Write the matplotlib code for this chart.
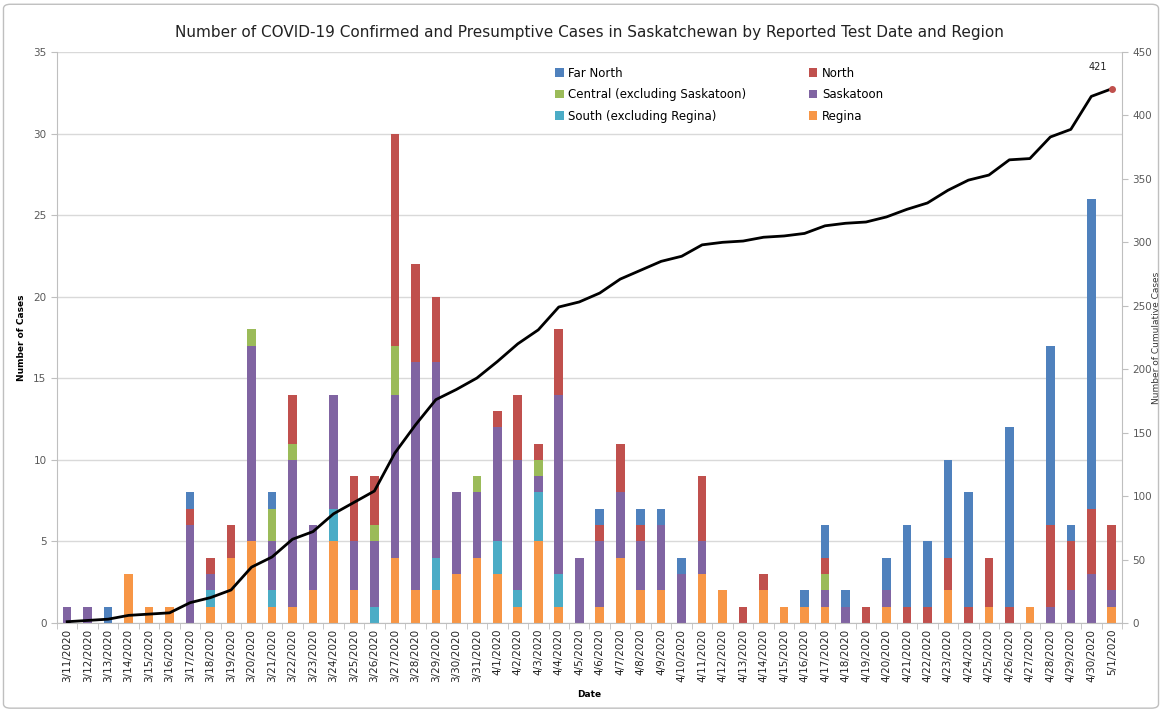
import numpy as np
import matplotlib
matplotlib.use("Agg")
import matplotlib.pyplot as plt
from matplotlib.patches import FancyBboxPatch

dates = ["3/11/2020", "3/12/2020", "3/13/2020", "3/14/2020", "3/15/2020", "3/16/2020",
         "3/17/2020", "3/18/2020", "3/19/2020", "3/20/2020", "3/21/2020", "3/22/2020",
         "3/23/2020", "3/24/2020", "3/25/2020", "3/26/2020", "3/27/2020", "3/28/2020",
         "3/29/2020", "3/30/2020", "3/31/2020", "4/1/2020", "4/2/2020", "4/3/2020",
         "4/4/2020", "4/5/2020", "4/6/2020", "4/7/2020", "4/8/2020", "4/9/2020",
         "4/10/2020", "4/11/2020", "4/12/2020", "4/13/2020", "4/14/2020", "4/15/2020",
         "4/16/2020", "4/17/2020", "4/18/2020", "4/19/2020", "4/20/2020", "4/21/2020",
         "4/22/2020", "4/23/2020", "4/24/2020", "4/25/2020", "4/26/2020", "4/27/2020",
         "4/28/2020", "4/29/2020", "4/30/2020", "5/1/2020"]

# daily cases per region (stack order bottom -> top)
regina    = [0, 0, 0, 3, 1, 1, 0, 1, 4, 5, 1, 1, 2, 5, 2, 0, 4, 2, 2, 3, 4, 3, 1, 5, 1, 0,
             1, 4, 2, 2, 0, 3, 2, 0, 2, 1, 1, 1, 0, 0, 1, 0, 0, 2, 0, 1, 0, 1, 0, 0, 0, 1]
south     = [0, 0, 0, 0, 0, 0, 0, 1, 0, 0, 1, 0, 0, 2, 0, 1, 0, 0, 2, 0, 0, 2, 1, 3, 2, 0,
             0, 0, 0, 0, 0, 0, 0, 0, 0, 0, 0, 0, 0, 0, 0, 0, 0, 0, 0, 0, 0, 0, 0, 0, 0, 0]
saskatoon = [1, 1, 0, 0, 0, 0, 6, 1, 0, 12, 3, 9, 4, 7, 3, 4, 10, 14, 12, 5, 4, 7, 8, 1, 11, 4,
             4, 4, 3, 4, 3, 2, 0, 0, 0, 0, 0, 1, 1, 0, 1, 0, 0, 0, 0, 0, 0, 0, 1, 2, 3, 1]
central   = [0, 0, 0, 0, 0, 0, 0, 0, 0, 1, 2, 1, 0, 0, 0, 1, 3, 0, 0, 0, 1, 0, 0, 1, 0, 0,
             0, 0, 0, 0, 0, 0, 0, 0, 0, 0, 0, 1, 0, 0, 0, 0, 0, 0, 0, 0, 0, 0, 0, 0, 0, 0]
north     = [0, 0, 0, 0, 0, 0, 1, 1, 2, 0, 0, 3, 0, 0, 4, 3, 13, 6, 4, 0, 0, 1, 4, 1, 4, 0,
             1, 3, 1, 0, 0, 4, 0, 1, 1, 0, 0, 1, 0, 1, 0, 1, 1, 2, 1, 3, 1, 0, 5, 3, 4, 4]
far_north = [0, 0, 1, 0, 0, 0, 1, 0, 0, 0, 1, 0, 0, 0, 0, 0, 0, 0, 0, 0, 0, 0, 0, 0, 0, 0,
             1, 0, 1, 1, 1, 0, 0, 0, 0, 0, 1, 2, 1, 0, 2, 5, 4, 6, 7, 0, 11, 0, 11, 1, 19, 0]

cumulative = [1, 2, 3, 6, 7, 8, 16, 20, 26, 44, 52, 66, 72, 86, 95, 104, 134, 156, 176, 184,
              193, 206, 220, 231, 249, 253, 260, 271, 278, 285, 289, 298, 300, 301, 304, 305,
              307, 313, 315, 316, 320, 326, 331, 341, 349, 353, 365, 366, 383, 389, 415, 421]

series = [("Regina", regina, "#F79646"),
          ("South (excluding Regina)", south, "#4BACC6"),
          ("Saskatoon", saskatoon, "#8064A2"),
          ("Central (excluding Saskatoon)", central, "#9BBB59"),
          ("North", north, "#C0504D"),
          ("Far North", far_north, "#4F81BD")]

fig = plt.figure(figsize=(11.62, 7.11), dpi=100)
ax = fig.add_axes([0.049, 0.1238, 0.9166, 0.8031])

x = np.arange(len(dates))
bottom = np.zeros(len(dates))
handles = {}
for name, vals, col in series:
    b = ax.bar(x, vals, 0.42, bottom=bottom, color=col, label=name, zorder=2)
    handles[name] = b
    bottom += np.array(vals)

ax.set_xlim(-0.5, len(dates) - 0.5)
ax.set_ylim(0, 35)
ax.set_yticks(range(0, 36, 5))
ax.yaxis.grid(True, color="#d9d9d9", linewidth=1, zorder=0)
ax.set_axisbelow(True)
ax.set_xticks(x)
ax.set_xticklabels(dates, rotation=90, fontsize=7.5, color="#222222")
ax.set_xticks(np.arange(-0.5, len(dates), 1), minor=True)
ax.tick_params(axis="x", which="major", length=0, pad=4)
ax.tick_params(axis="x", which="minor", length=4, color="#bfbfbf")
ax.tick_params(axis="y", length=4, color="#bfbfbf", labelsize=7.5, labelcolor="#595959")
for s in ["top", "right"]:
    ax.spines[s].set_visible(False)
for s in ["left", "bottom"]:
    ax.spines[s].set_color("#bfbfbf")
ax.set_ylabel("Number of Cases", fontsize=6.5, fontweight="bold")
ax.yaxis.set_label_coords(-0.029, 0.5)
ax.set_xlabel("Date", fontsize=6.5, fontweight="bold", labelpad=6)

ax2 = ax.twinx()
ax2.plot(x, cumulative, color="black", linewidth=2, zorder=3)
ax2.plot(x[-1], cumulative[-1], "o", color="#C0504D", markersize=4, zorder=4)
ax2.annotate(str(cumulative[-1]), (x[-1], cumulative[-1]), xytext=(-10, 16),
             textcoords="offset points", fontsize=7, ha="center", va="center", color="#222222")
ax2.set_ylim(0, 450)
ax2.set_yticks(range(0, 451, 50))
ax2.tick_params(axis="y", length=4, color="#bfbfbf", labelsize=7.5, labelcolor="#595959")
for s in ["top", "left", "bottom"]:
    ax2.spines[s].set_visible(False)
ax2.spines["right"].set_color("#bfbfbf")
ax2.set_ylabel("Number of Cumulative Cases", fontsize=6.5, color="#333333")
ax2.yaxis.set_label_coords(1.028, 0.5)

order = ["Far North", "Central (excluding Saskatoon)", "South (excluding Regina)",
         "North", "Saskatoon", "Regina"]
ax.legend([handles[n] for n in order], order, ncol=2, frameon=False, fontsize=8.5,
          loc="upper left", bbox_to_anchor=(0.458, 0.993), columnspacing=5.3,
          handlelength=0.7, handleheight=0.7, handletextpad=0.4, labelspacing=0.72)

fig.suptitle("Number of COVID-19 Confirmed and Presumptive Cases in Saskatchewan by Reported Test Date and Region",
             fontsize=11, y=0.965, x=0.507, color="#222222")

fig.patches.append(FancyBboxPatch((0.003, 0.004), 0.994, 0.99, boxstyle="round,pad=0,rounding_size=0.006",
                                  transform=fig.transFigure, fill=False, edgecolor="#bfbfbf", linewidth=1))

fig.savefig("out.png", dpi=100)
